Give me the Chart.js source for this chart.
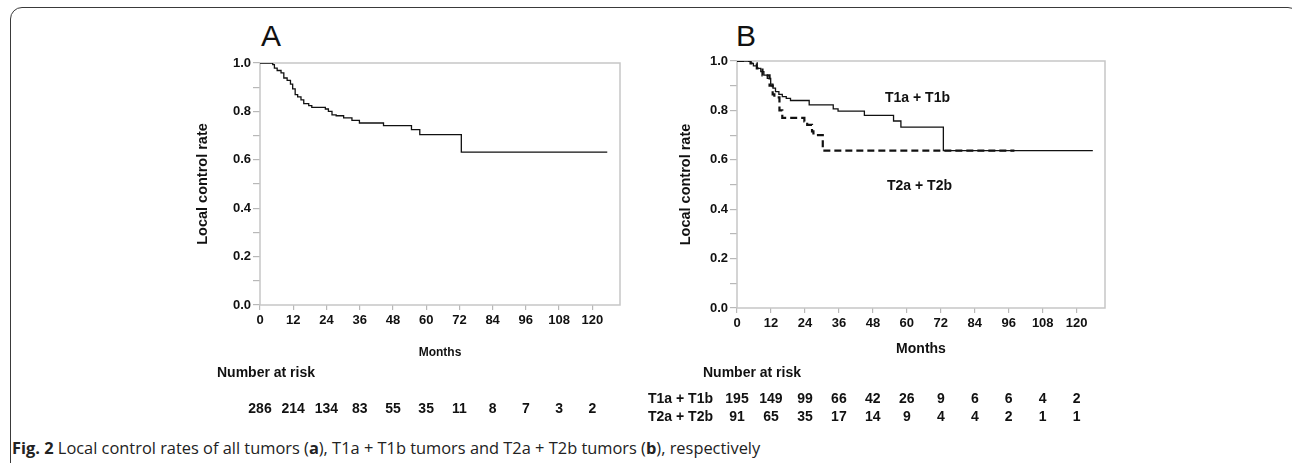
<!DOCTYPE html>
<html>
<head>
<meta charset="utf-8">
<script src="https://cdn.jsdelivr.net/npm/chart.js@4.4.0/dist/chart.umd.min.js"></script>
<style>
  body {
    margin: 0;
    width: 1292px;
    height: 463px;
    overflow: hidden;
    position: relative;
    background: #fff;
    font-family: "Liberation Sans", Arial, sans-serif;
    color: #111;
  }
  .frame {
    position: absolute;
    left: 10px;
    top: 7px;
    width: 1290px;
    height: 520px;
    border: 1.5px solid #3a3a3a;
    border-radius: 12px;
    box-sizing: border-box;
  }
  canvas { position: absolute; top: 0; }
  .label {
    position: absolute;
    white-space: nowrap;
    font-weight: bold;
    font-size: 14px;
    line-height: 1;
  }
  .risk { transform: translate(-50%, -50%); }
  .panel {
    position: absolute;
    font-size: 30px;
    line-height: 1;
    color: #111;
  }
  .caption {
    position: absolute;
    left: 12px;
    top: 436px;
    font-family: "Open Sans", sans-serif;
    font-size: 16.4px;
    color: #222;
    white-space: nowrap;
  }
</style>
</head>
<body>
<div class="frame"></div>

<div class="panel" style="left:261px;top:21px;">A</div>
<div class="panel" style="left:736px;top:21px;">B</div>

<canvas id="chartA" width="490" height="370" style="left:150px;"></canvas>
<canvas id="chartB" width="480" height="370" style="left:640px;"></canvas>

<div class="label" style="left:885px;top:90px;">T1a + T1b</div>
<div class="label" style="left:887px;top:178px;">T2a + T2b</div>

<div class="label" style="left:217px;top:365px;">Number at risk</div>
<div class="label" style="left:703px;top:365px;">Number at risk</div>
<div class="label" style="left:648px;top:391px;">T1a + T1b</div>
<div class="label" style="left:648px;top:409px;">T2a + T2b</div>

<div class="caption"><b>Fig. 2</b> Local control rates of all tumors (<b>a</b>), T1a + T1b tumors and T2a + T2b tumors (<b>b</b>), respectively</div>

<script>
const monthTicks = [0, 12, 24, 36, 48, 60, 72, 84, 96, 108, 120];
const rateTicks = [0, 0.1, 0.2, 0.3, 0.4, 0.5, 0.6, 0.7, 0.8, 0.9, 1.0];

// all tumors (panel A)
const allMonths = [0, 4.6, 5.2, 6.2, 7.6, 8.6, 9.8, 11.0, 11.8, 12.7, 13.6, 14.8, 15.8, 17.6, 18.7,
  23.6, 24.7, 26.0, 27.5, 30.2, 33.2, 35.9, 44.6, 54.7, 57.7, 72.7, 125.4];
const allRate = [1.0, 0.993, 0.979, 0.969, 0.959, 0.938, 0.928, 0.913, 0.893, 0.869, 0.860, 0.848, 0.832, 0.824, 0.817,
  0.810, 0.800, 0.786, 0.782, 0.773, 0.763, 0.752, 0.741, 0.725, 0.704, 0.632, 0.632];

// T1a + T1b (panel B, solid)
const t1Months = [0, 4.8, 5.8, 7.0, 8.4, 9.5, 10.7, 11.9, 12.7, 13.6, 14.8, 16.0, 17.4, 18.9,
  25.5, 34.0, 35.7, 45.0, 55.3, 57.9, 72.9, 125.7];
const t1Rate = [1.0, 0.99, 0.98, 0.97, 0.957, 0.943, 0.930, 0.906, 0.890, 0.876, 0.865, 0.856, 0.849, 0.840,
  0.822, 0.806, 0.797, 0.780, 0.757, 0.732, 0.637, 0.637];

// T2a + T2b (panel B, dashed)
const t2Months = [0, 4.8, 7.0, 9.0, 11.5, 12.6, 13.2, 15.0, 16.0, 23.8, 24.8, 26.5, 27.0, 30.3, 98.0];
const t2Rate = [1.0, 0.99, 0.97, 0.942, 0.90, 0.865, 0.853, 0.80, 0.770, 0.755, 0.741, 0.715, 0.70, 0.637, 0.637];

const riskAll = [286, 214, 134, 83, 55, 35, 11, 8, 7, 3, 2];
const riskT1 = [195, 149, 99, 66, 42, 26, 9, 6, 6, 4, 2];
const riskT2 = [91, 65, 35, 17, 14, 9, 4, 4, 2, 1, 1];

const toPoints = (xs, ys) => xs.map((x, i) => ({ x, y: ys[i] }));

const plotFrame = {
  id: "plotFrame",
  beforeDatasetsDraw(chart) {
    const { ctx, chartArea: a } = chart;
    ctx.save();
    ctx.strokeStyle = "#c6c6c6";
    ctx.lineWidth = 1.5;
    ctx.strokeRect(a.left, a.top, a.right - a.left, a.bottom - a.top);
    ctx.restore();
  },
};

function makeKM(id, datasets, o) {
  return new Chart(document.getElementById(id), {
    type: "line",
    data: { datasets },
    plugins: [plotFrame],
    options: {
      responsive: false,
      animation: false,
      events: [],
      layout: { padding: { top: o.padTop, right: o.padRight, bottom: 0, left: 0 } },
      plugins: { legend: { display: false }, tooltip: { enabled: false } },
      scales: {
        x: {
          type: "linear",
          min: 0,
          max: 130,
          afterBuildTicks(scale) {
            scale.ticks = monthTicks.map((v) => ({ value: v }));
          },
          afterFit(scale) {
            scale.height = o.xHeight;
          },
          border: { display: false },
          grid: { drawOnChartArea: false, drawTicks: true, tickLength: 5, color: "#b8b8b8", lineWidth: 1.2 },
          ticks: {
            padding: 3,
            maxRotation: 0,
            autoSkip: false,
            color: "#111",
            font: { family: "Liberation Sans", size: 13, weight: "bold" },
          },
          title: {
            display: true,
            text: "Months",
            color: "#111",
            padding: { top: 0, bottom: o.xTitlePad },
            font: { family: "Liberation Sans", size: o.xTitleSize, weight: "bold" },
          },
        },
        y: {
          min: 0,
          max: 1,
          afterBuildTicks(scale) {
            scale.ticks = rateTicks.map((v) => ({ value: v }));
          },
          afterFit(scale) {
            scale.width = o.yWidth;
          },
          border: { display: false },
          grid: { drawOnChartArea: false, drawTicks: true, tickLength: 7, color: "#b8b8b8", lineWidth: 1.2 },
          ticks: {
            padding: 2,
            autoSkip: false,
            color: "#111",
            font: { family: "Liberation Sans", size: 13, weight: "bold" },
            callback(value) {
              return Math.round(value * 10) % 2 === 0 ? Number(value).toFixed(1) : "";
            },
          },
          title: {
            display: true,
            text: "Local control rate",
            color: "#111",
            padding: { top: o.yTitlePad, bottom: 0 },
            font: { family: "Liberation Sans", size: 14.5, weight: "bold" },
          },
        },
      },
    },
  });
}

const lineStyle = {
  stepped: true,
  pointRadius: 0,
  fill: false,
  tension: 0,
  borderColor: "#111",
  borderWidth: 1.3,
};

const chartA = makeKM(
  "chartA",
  [{ label: "All tumors", data: toPoints(allMonths, allRate), ...lineStyle }],
  { padTop: 63, padRight: 20, xHeight: 65, xTitleSize: 12, xTitlePad: 10, yWidth: 110, yTitlePad: 44 }
);

const chartB = makeKM(
  "chartB",
  [
    { label: "T1a + T1b", data: toPoints(t1Months, t1Rate), ...lineStyle },
    { label: "T2a + T2b", data: toPoints(t2Months, t2Rate), ...lineStyle, borderWidth: 2.2, borderDash: [7, 4] },
  ],
  { padTop: 61, padRight: 15, xHeight: 62, xTitleSize: 14, xTitlePad: 12, yWidth: 97, yTitlePad: 37 }
);

function placeRow(chart, canvasLeft, values, y) {
  const xs = chart.scales.x;
  monthTicks.forEach((m, i) => {
    const el = document.createElement("div");
    el.className = "label risk";
    el.textContent = values[i];
    el.style.left = canvasLeft + xs.getPixelForValue(m) + "px";
    el.style.top = y + "px";
    document.body.appendChild(el);
  });
}

placeRow(chartA, 150, riskAll, 408);
placeRow(chartB, 640, riskT1, 398);
placeRow(chartB, 640, riskT2, 416);
</script>
</body>
</html>
